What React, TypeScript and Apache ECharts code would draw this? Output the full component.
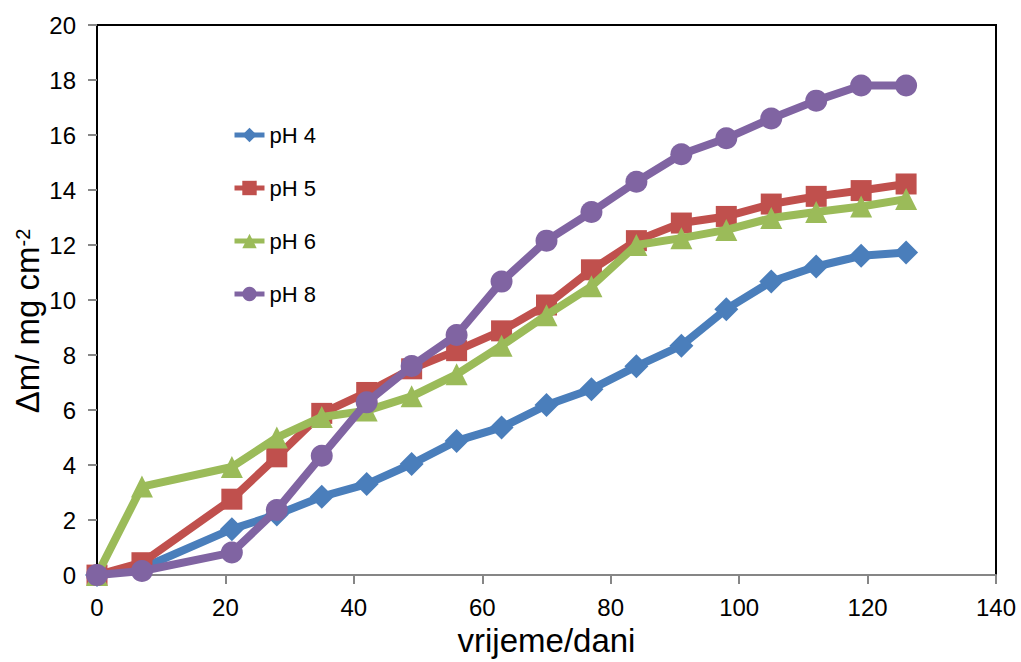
import React, { useEffect, useRef } from "react";
import * as echarts from "echarts";

const days = [0, 7, 21, 28, 35, 42, 49, 56, 63, 70, 77, 84, 91, 98, 105, 112, 119, 126];
const ph4 = [0, 0.25, 1.67, 2.2, 2.85, 3.31, 4.04, 4.88, 5.37, 6.18, 6.76, 7.59, 8.34, 9.67, 10.67, 11.22, 11.61, 11.73];
const ph5 = [0, 0.45, 2.76, 4.3, 5.88, 6.64, 7.5, 8.16, 8.88, 9.82, 11.1, 12.16, 12.8, 13.04, 13.49, 13.77, 13.98, 14.22];
const ph6 = [0, 3.22, 3.93, 5.0, 5.75, 5.98, 6.5, 7.3, 8.34, 9.45, 10.5, 12.0, 12.25, 12.55, 12.98, 13.2, 13.4, 13.67];
const ph8 = [0, 0.15, 0.82, 2.37, 4.34, 6.28, 7.6, 8.73, 10.67, 12.16, 13.2, 14.3, 15.3, 15.88, 16.6, 17.25, 17.8, 17.8];

const seriesNames = ["pH 4", "pH 5", "pH 6", "pH 8"];
const seriesValues = [ph4, ph5, ph6, ph8];
const seriesColors = ["#4a7ebb", "#c0504d", "#9bbb59", "#8064a2"];
const seriesSymbols = ["diamond", "rect", "triangle", "circle"];
const seriesSymbolSizes = [24, 21, 22, 22];

const FONT = "'Liberation Sans', Arial, sans-serif";

export default function App() {
  const ref = useRef<HTMLDivElement>(null);
  useEffect(() => {
    if (!ref.current) return;
    const chart = echarts.init(ref.current, null, { renderer: "svg" });
    const series = seriesNames.map((name, i) => ({
      name,
      type: "line",
      data: days.map((d, j) => [d, seriesValues[i][j]]),
      symbol: seriesSymbols[i],
      symbolSize: seriesSymbolSizes[i],
      showAllSymbol: true,
      itemStyle: { color: seriesColors[i] },
      lineStyle: { color: seriesColors[i], width: 8 },
      z: 2 + i,
    }));
    chart.setOption({
      animation: false,
      backgroundColor: "#fff",
      textStyle: { fontFamily: FONT },
      grid: {
        left: 97,
        top: 25,
        right: 25,
        bottom: 86,
        show: true,
        borderColor: "#000",
        borderWidth: 2,
        backgroundColor: "transparent",
      },
      legend: {
        orient: "vertical",
        left: 232,
        top: 124,
        padding: 0,
        itemWidth: 30,
        itemHeight: 18,
        itemGap: 31,
        lineStyle: { width: 5 },
        textStyle: { fontSize: 22, color: "#000", fontFamily: FONT },
        data: seriesNames,
      },
      xAxis: {
        type: "value",
        min: 0,
        max: 140,
        interval: 20,
        z: 5,
        name: "vrijeme/dani",
        nameLocation: "middle",
        nameGap: 46,
        nameTextStyle: { fontSize: 33, color: "#000", fontFamily: FONT },
        axisLine: { show: true, lineStyle: { color: "#868686", width: 2 } },
        axisTick: { show: true, inside: false, length: 9, lineStyle: { color: "#868686", width: 2 } },
        axisLabel: { fontSize: 24, color: "#000", margin: 20, fontFamily: FONT },
        splitLine: { show: false },
      },
      yAxis: {
        type: "value",
        min: 0,
        max: 20,
        interval: 2,
        z: 5,
        axisLine: { show: true, lineStyle: { color: "#000", width: 2 } },
        axisTick: { show: true, inside: false, length: 9, lineStyle: { color: "#868686", width: 2 } },
        axisLabel: { fontSize: 24, color: "#000", margin: 21, fontFamily: FONT },
        splitLine: { show: false },
      },
      graphic: [
        {
          type: "text",
          x: 27,
          y: 321,
          rotation: Math.PI / 2,
          style: {
            text: "{a|Δm/ mg cm}{b|-2}",
            align: "center",
            verticalAlign: "middle",
            fill: "#000",
            rich: {
              a: { fontSize: 33, fontFamily: FONT, fill: "#000", lineHeight: 38 },
              b: { fontSize: 20, fontFamily: FONT, fill: "#000", padding: [0, 0, 8, 0] },
            },
          },
        },
      ],
      series,
    });
    return () => chart.dispose();
  }, []);
  return (
    <div
      ref={ref}
      style={{ position: "absolute", left: 0, top: 0, width: 1021, height: 662 }}
    />
  );
}
